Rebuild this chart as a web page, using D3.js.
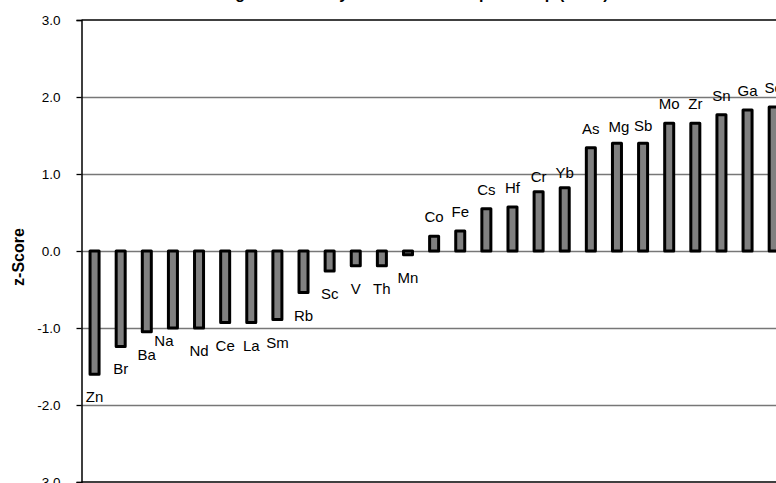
<!DOCTYPE html>
<html>
<head>
<meta charset="utf-8">
<script src="https://cdn.jsdelivr.net/npm/d3@7"></script>
<style>
  html, body { margin: 0; padding: 0; background: #fff; overflow: hidden; }
  svg { display: block; }
</style>
</head>
<body>
<svg id="chart" width="776" height="483"></svg>
<script>
// ---- data ----
const chartTitle = "Average z-Scores by Element for Sample Group (INAA)";
const yAxisTitle = "z-Score";
const categories = ["Zn","Br","Ba","Na","Nd","Ce","La","Sm","Rb","Sc","V","Th","Mn",
                    "Co","Fe","Cs","Hf","Cr","Yb","As","Mg","Sb","Mo","Zr","Sn","Ga","Se"];
const zScores = [-1.60,-1.24,-1.05,-1.00,-1.00,-0.93,-0.93,-0.89,-0.54,-0.26,-0.19,-0.19,-0.05,
                  0.19, 0.26, 0.55, 0.57, 0.77, 0.82, 1.34, 1.40, 1.40, 1.66, 1.66, 1.77, 1.83, 1.87];
const yTicks = [-3, -2, -1, 0, 1, 2, 3];
const gridValues = [-2, -1, 0, 1, 2];

// ---- layout ----
const svg = d3.select("#chart");
const plotLeft = 81.5, plotTop = 20, plotBottom = 482;
const step = 26.12;
const plotRight = plotLeft + categories.length * step;

const x = d3.scaleBand().domain(categories).range([plotLeft, plotRight]).paddingInner(0).paddingOuter(0);
const y = d3.scaleLinear().domain([-3, 3]).range([plotBottom, plotTop]);
const barW = x.bandwidth() * 0.345;

// gridlines
svg.append("g").selectAll("line").data(gridValues).join("line")
  .attr("x1", plotLeft).attr("x2", plotRight)
  .attr("y1", d => Math.round(y(d)) + 0.5).attr("y2", d => Math.round(y(d)) + 0.5)
  .attr("stroke", "#777").attr("stroke-width", 1.4);

// plot border top and bottom
svg.append("line").attr("x1", plotLeft).attr("x2", plotRight)
  .attr("y1", y(3)).attr("y2", y(3)).attr("stroke", "#000").attr("stroke-width", 1.3);
svg.append("line").attr("x1", plotLeft).attr("x2", plotRight)
  .attr("y1", y(-3)).attr("y2", y(-3)).attr("stroke", "#000").attr("stroke-width", 1.3);

// bars
svg.append("g").selectAll("rect").data(categories).join("rect")
  .attr("x", d => x(d) + x.bandwidth() / 2 - barW / 2)
  .attr("width", barW)
  .attr("y", (d, i) => y(Math.max(0, zScores[i])))
  .attr("height", (d, i) => Math.abs(y(zScores[i]) - y(0)))
  .attr("fill", "#808080")
  .attr("stroke", "#000")
  .attr("stroke-width", 3)
  .attr("stroke-linejoin", "round");

// y axis
const yAxis = d3.axisLeft(y).tickValues(yTicks).tickFormat(d => d.toFixed(1))
  .tickSize(5).tickPadding(16);
const gy = svg.append("g").attr("transform", `translate(${plotLeft},0)`).call(yAxis);
gy.select(".domain").attr("stroke", "#000").attr("stroke-width", 1.5);
gy.selectAll(".tick line").attr("stroke", "#000").attr("stroke-width", 1.3);
gy.selectAll(".tick text").attr("font-family", "Arial, 'Liberation Sans', sans-serif")
  .attr("font-size", 13.5).attr("fill", "#000");

// data labels (category names at bar ends)
const labelNudge = { "Na": [-9, -10], "Cr": [0, 4], "Yb": [0, 4], "Mg": [2, 3], "Sb": [0, 2] };
svg.append("g").selectAll("text").data(categories).join("text")
  .attr("x", d => x(d) + x.bandwidth() / 2 + (labelNudge[d] ? labelNudge[d][0] : 0))
  .attr("y", (d, i) => {
    const v = zScores[i];
    const base = v < 0 ? y(v) + 28 : y(v) - 14;
    return base + (labelNudge[d] ? labelNudge[d][1] : 0);
  })
  .attr("text-anchor", "middle")
  .attr("font-family", "Arial, 'Liberation Sans', sans-serif")
  .attr("font-size", 15)
  .attr("fill", "#000")
  .text(d => d);

// y axis title
svg.append("text")
  .attr("transform", "translate(24,257) rotate(-90)")
  .attr("text-anchor", "middle")
  .attr("font-family", "Arial, 'Liberation Sans', sans-serif")
  .attr("font-weight", "bold")
  .attr("font-size", 16)
  .attr("fill", "#000")
  .text(yAxisTitle);

// chart title (cut off at top of view)
svg.append("text")
  .attr("x", 400).attr("y", -1.5)
  .attr("text-anchor", "middle")
  .attr("font-family", "Arial, 'Liberation Sans', sans-serif")
  .attr("font-weight", "bold")
  .attr("font-size", 16)
  .attr("fill", "#000")
  .text(chartTitle);
</script>
</body>
</html>
